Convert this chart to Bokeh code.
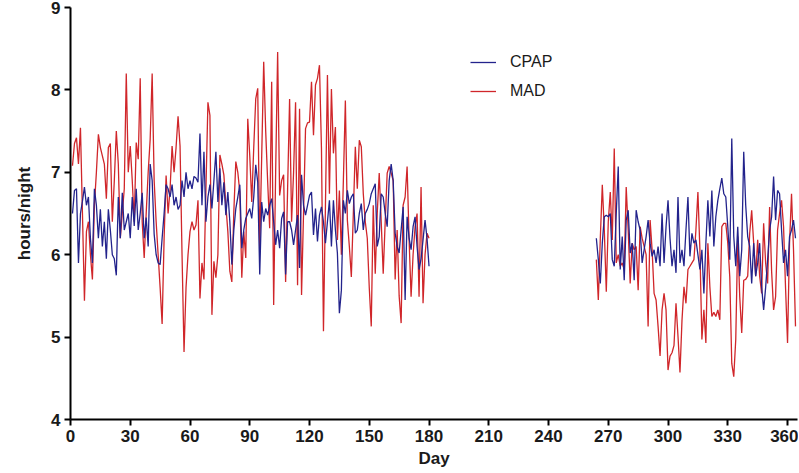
import numpy as np
from bokeh.plotting import figure
from bokeh.models import ColumnDataSource, Legend, LegendItem, FixedTicker, Range1d
from bokeh.embed import file_html
from bokeh.resources import INLINE

# Days 1-180 (first period) and 264-364 (second period)
start_a = 1
start_b = 264

cpap_a = [
    6.50, 6.78, 6.80, 5.90, 6.50, 6.65, 6.82, 6.60, 6.70, 6.20,
    5.90, 6.80, 6.60, 6.20, 6.55, 6.10, 6.40, 5.95, 6.55, 6.30,
    6.00, 5.95, 5.75, 6.70, 6.20, 6.75, 6.30, 6.40, 6.50, 6.20,
    6.70, 6.35, 6.80, 6.30, 6.50, 6.75, 6.20, 6.45, 6.10, 7.10,
    6.90, 6.25, 6.00, 5.90, 5.88, 6.20, 6.50, 6.85, 6.80, 6.70,
    6.85, 6.60, 6.70, 6.55, 6.60, 6.90, 6.70, 7.00, 6.80, 6.90,
    6.80, 6.95, 6.93, 6.88, 7.47, 6.60, 7.25, 6.40, 6.70, 6.85,
    6.56, 6.90, 7.25, 6.64, 7.05, 6.60, 6.88, 6.48, 6.76, 6.40,
    5.88, 6.30, 6.56, 6.70, 6.85, 6.08, 6.30, 6.44, 6.50, 6.56,
    6.44, 6.70, 7.09, 6.88, 5.76, 6.64, 6.40, 6.56, 6.48, 6.60,
    6.68, 6.40, 6.12, 6.30, 6.08, 6.44, 6.52, 5.76, 6.40, 6.40,
    6.30, 6.12, 6.30, 6.48, 5.84, 6.97, 6.60, 6.48, 6.60, 6.72,
    6.76, 6.24, 6.56, 6.16, 6.48, 6.58, 6.40, 6.14, 6.40, 6.66,
    6.10, 6.66, 6.30, 6.02, 5.29, 5.57, 6.66, 6.50, 6.78, 6.62,
    6.70, 6.74, 6.26, 6.30, 6.50, 6.62, 6.30, 6.50, 6.55, 6.62,
    6.74, 6.80, 6.86, 6.10, 6.22, 6.74, 6.70, 6.50, 6.34, 6.90,
    7.10, 6.90, 6.26, 6.10, 6.02, 6.30, 6.58, 5.45, 6.46, 6.20,
    6.06, 6.34, 6.46, 6.10, 5.82, 5.95, 6.18, 6.42, 6.20, 5.86,
]

mad_a = [
    7.08, 7.35, 7.42, 7.10, 7.54, 6.50, 5.44, 6.28, 6.40, 6.00,
    5.70, 6.60, 7.00, 7.46, 7.30, 7.20, 7.10, 6.68, 7.30, 7.35,
    6.40, 6.90, 7.50, 7.10, 6.20, 6.50, 6.80, 8.20, 7.00, 7.32,
    6.90, 6.40, 7.36, 7.16, 8.14, 6.40, 5.96, 6.50, 7.00, 7.40,
    8.20, 6.90, 6.40, 6.00, 5.60, 5.16, 6.20, 6.96, 6.50, 6.80,
    7.32, 7.00, 7.30, 7.68, 7.32, 6.00, 4.82, 5.60, 6.00, 6.28,
    6.40, 6.30, 6.36, 6.66, 5.47, 5.90, 5.70, 6.80, 7.85, 7.69,
    5.27, 5.92, 5.72, 6.00, 7.21, 7.10, 6.97, 6.60, 6.28, 5.80,
    5.67, 6.52, 7.13, 7.00, 6.76, 5.72, 6.28, 5.96, 7.65, 7.20,
    6.64, 7.30, 7.89, 8.02, 6.08, 7.20, 8.34, 7.50, 6.88, 6.32,
    8.10, 5.39, 7.00, 8.46, 6.72, 6.90, 6.97, 5.67, 6.80, 7.89,
    6.40, 7.00, 7.85, 5.63, 7.77, 5.51, 6.50, 7.53, 7.60, 7.61,
    8.10, 7.45, 8.06, 8.14, 8.30, 7.29, 5.07, 6.60, 8.18, 6.74,
    8.01, 7.23, 7.55, 6.18, 6.78, 6.00, 6.90, 7.87, 6.42, 6.10,
    5.73, 6.50, 7.31, 6.80, 7.39, 7.31, 6.74, 6.40, 6.20, 5.60,
    5.13, 6.60, 5.77, 6.50, 6.99, 6.40, 5.77, 6.40, 6.99, 7.07,
    6.99, 6.90, 5.70, 6.30, 5.50, 5.17, 6.60, 6.70, 7.07, 6.18,
    5.49, 6.00, 6.34, 6.50, 5.49, 6.82, 5.41, 6.00, 6.26, 6.20,
]

cpap_b = [
    6.20, 5.94, 5.65, 6.14, 6.46, 6.48, 6.46, 6.50, 5.94, 5.86,
    6.50, 7.07, 5.82, 6.22, 5.69, 6.42, 6.54, 6.02, 6.14, 5.69,
    6.54, 6.40, 6.30, 5.90, 6.06, 6.22, 6.42, 6.14, 5.98, 6.06,
    5.90, 6.10, 5.86, 6.50, 5.90, 6.34, 6.66, 6.20, 5.86, 6.06,
    5.78, 6.70, 5.90, 6.06, 5.86, 6.30, 6.70, 5.98, 6.26, 6.14,
    6.18, 6.00, 5.82, 6.06, 5.53, 6.14, 6.66, 6.22, 6.78, 6.10,
    6.46, 6.66, 6.80, 6.93, 6.74, 6.70, 6.34, 5.94, 7.41, 6.22,
    5.86, 6.34, 5.74, 6.06, 7.25, 6.60, 6.22, 6.10, 5.65, 6.14,
    5.74, 5.90, 6.14, 5.61, 5.33, 5.60, 5.94, 6.30, 6.46, 6.95,
    6.42, 6.78, 6.74, 6.30, 5.90, 6.06, 5.74, 6.22, 6.30, 6.42,
    6.20,
]

mad_b = [
    5.94, 5.45, 6.20, 6.85, 6.30, 5.55, 6.40, 6.76, 6.18, 7.29,
    5.90, 6.00, 5.86, 5.90, 5.82, 6.82, 6.30, 5.65, 6.14, 6.06,
    6.10, 5.57, 6.34, 6.20, 6.10, 6.00, 5.13, 6.42, 6.06, 5.53,
    5.45, 5.13, 4.77, 5.33, 5.53, 5.33, 4.60, 4.77, 4.81, 4.90,
    5.41, 5.01, 4.57, 5.20, 5.61, 5.41, 5.82, 5.86, 5.90, 5.94,
    6.30, 6.76, 6.06, 4.97, 5.33, 4.93, 6.14, 5.61, 5.25, 5.30,
    5.25, 5.33, 5.21, 6.34, 6.38, 6.38, 6.14, 5.73, 4.68, 4.52,
    4.97, 6.22, 5.49, 5.05, 5.69, 5.70, 5.74, 6.26, 6.54, 6.14,
    5.74, 6.18, 5.74, 5.53, 6.38, 5.90, 5.65, 6.58, 5.80, 5.33,
    5.49, 6.30, 6.50, 6.66, 6.34, 5.60, 4.93, 6.14, 6.74, 6.06,
    5.13,
]

x_ticks = [0, 30, 60, 90, 120, 150, 180, 210, 240, 270, 300, 330, 360]
y_ticks = [4, 5, 6, 7, 8, 9]


def series(a, b):
    xa = np.arange(start_a, start_a + len(a))
    xb = np.arange(start_b, start_b + len(b))
    x = np.concatenate([xa, [np.nan], xb])
    y = np.concatenate([np.array(a, float), [np.nan], np.array(b, float)])
    return ColumnDataSource(dict(x=x, y=y))


p = figure(width=798, height=470, output_backend="svg", toolbar_location=None,
           x_range=Range1d(0, 365), y_range=Range1d(4, 9),
           min_border_left=70, min_border_right=1, min_border_top=7,
           min_border_bottom=50)
p.outline_line_color = None
p.xgrid.visible = False
p.ygrid.visible = False
p.background_fill_color = "white"
p.border_fill_color = "white"

FONT = "Liberation Sans"
for ax in (p.xaxis[0], p.yaxis[0]):
    ax.axis_line_width = 2
    ax.axis_line_color = "black"
    ax.major_tick_line_width = 2
    ax.major_tick_line_color = "black"
    ax.major_tick_out = 6
    ax.major_tick_in = 0
    ax.minor_tick_line_color = None
    ax.major_label_text_font = FONT
    ax.major_label_text_font_style = "bold"
    ax.major_label_text_font_size = "17px"
    ax.major_label_text_color = "#1a1a1a"
    ax.axis_label_text_font = FONT
    ax.axis_label_text_font_style = "bold"
    ax.axis_label_text_font_size = "17px"
    ax.axis_label_text_color = "#1a1a1a"

p.xaxis.ticker = FixedTicker(ticks=x_ticks)
p.yaxis.ticker = FixedTicker(ticks=y_ticks)
p.xaxis.axis_label = "Day"
p.yaxis.axis_label = "hours/night"
p.xaxis.major_label_standoff = 4
p.yaxis.major_label_standoff = 4
p.xaxis.axis_label_standoff = 4
p.yaxis.axis_label_standoff = 14

src_cpap = series(cpap_a, cpap_b)
src_mad = series(mad_a, mad_b)

r_mad = p.line("x", "y", source=src_mad, line_color="#d0262a", line_width=1.3)
r_cpap = p.line("x", "y", source=src_cpap, line_color="#23238c", line_width=1.3)

legend = Legend(items=[LegendItem(label="CPAP", renderers=[r_cpap]),
                       LegendItem(label="MAD", renderers=[r_mad])],
                location=(400, 318))
legend.border_line_color = None
legend.background_fill_alpha = 0
legend.padding = 0
legend.margin = 0
legend.spacing = 9
legend.glyph_width = 26
legend.glyph_height = 20
legend.label_height = 20
legend.label_standoff = 14
legend.label_text_font = FONT
legend.label_text_font_size = "16px"
legend.label_text_color = "#1a1a1a"
p.add_layout(legend, "center")

open("out.html", "w").write(file_html(p, INLINE))
